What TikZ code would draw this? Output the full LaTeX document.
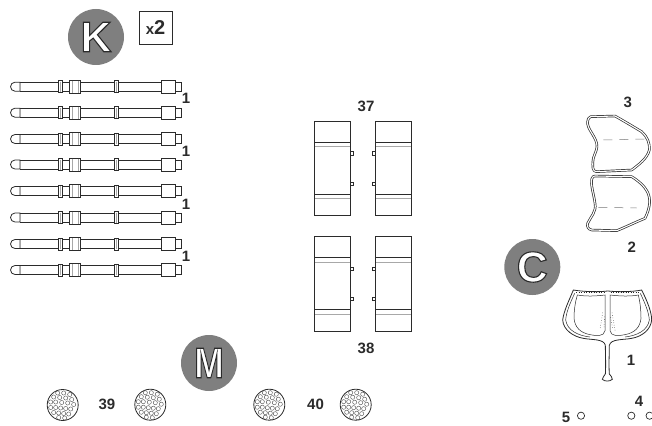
\documentclass[tikz,border=0pt]{standalone}
\usepackage{fontspec}
\usepackage{graphicx}
\setmainfont{Liberation Sans}
\definecolor{ink}{HTML}{2B2B2B}
\definecolor{disc}{HTML}{7F7F7F}
\definecolor{soft}{HTML}{A8A8A8}
\newcommand{\outlined}[1]{\special{pdf:code q 2 Tr 1.1 w 0.17 0.17 0.17 RG}#1\special{pdf:code Q}}
\tikzset{
  part/.style={draw=ink,line width=0.8pt,fill=white},
  softline/.style={draw=soft,line width=0.9pt},
  numlabel/.style={font=\bfseries\fontsize{15}{16}\selectfont,text=ink,inner sep=0pt},
  badge/.style={circle,fill=disc,minimum size=56pt,inner sep=0pt,text=white,font=\bfseries\fontsize{43}{45}\selectfont},
  twin/.style={draw=ink,line width=0.7pt,double=white,double distance=1.1pt,line join=round},
  dashline/.style={draw=soft!70!black,line width=0.5pt},
  thin line/.style={draw=ink,line width=0.5pt}
}
\newcommand{\barpart}[1]{%
  \begin{scope}[yshift=-#1pt]
    \draw[part] (20,-4.5) -- (15,-4.5) arc[start angle=-90,end angle=-270,radius=4.5] -- (20,4.5) -- cycle;
    \draw[part] (20,-4.5) rectangle (161,4.5);
    \draw[softline] (20,-4) -- (20,4);
    \draw[part] (58,-6) rectangle (62,6);
    \draw[softline] (60,-5) -- (60,5);
    \draw[part] (114,-6) rectangle (118,6);
    \draw[softline] (116,-5) -- (116,5);
    \draw[part] (69.5,-6.5) rectangle (80,6.5);
    \draw[softline] (72,-6) -- (72,6) (78,-6) -- (78,6);
    \draw[part] (161,-6.5) rectangle (175,6.5);
    \draw[part] (175,-4.5) rectangle (181,4.5);
  \end{scope}}
\newcommand{\bandpair}[4]{%
  \draw[draw=ink,line width=0.6pt] (#1,#3) -- (#2,#3);
  \draw[softline] (#1,#4) -- (#2,#4);}
\newcommand{\rivetdisc}[2]{%
  \begin{scope}[shift={(#1,#2)}]
    \draw[draw=ink,line width=0.8pt,fill=white] (0,0) circle[radius=15.5];
    \foreach \a/\b in {-5/-12,1/-12,7/-10.5,-9/-8,-3/-7.5,3/-7,9/-5.5,-12/-3,-7/-3,-1/-2.5,5/-2,11/-0.5,
      -12/2.5,-7/2.5,-2/3,3/3.5,8/4,-9/7.5,-4/8,1/8.5,6/9,-4/12.5,2/13}
      \draw[draw=ink!85,line width=0.4pt] (\a,\b) circle[radius=2.1];
  \end{scope}}
\begin{document}
\begin{tikzpicture}[x=1pt,y=-1pt]
\useasboundingbox (0,0) rectangle (652,425);
% badges
\node[badge] (badgeK) at (96,37) {\outlined{K}};
\node[badge] (badgeC) at (532.3,267) {\outlined{C}};
\node[badge] (badgeM) at (209,363) {\scalebox{.82}[1]{\outlined{M}}};
% x2
\node[draw=ink,line width=0.8pt,minimum size=33pt,inner sep=0pt,text=ink] (mult) at (155.5,27.5)
  {\bfseries\fontsize{15}{16}\selectfont x\fontsize{20}{20}\selectfont 2};
% bars
\barpart{86.7}\barpart{112.7}\barpart{139}\barpart{164.5}
\barpart{191}\barpart{217.5}\barpart{244}\barpart{270}
\node[numlabel] (b1) at (186,98.5) {1};
\node[numlabel] (b2) at (186,151.5) {1};
\node[numlabel] (b3) at (186,204) {1};
\node[numlabel] (b4) at (186,256) {1};
% plates 37
\draw[part] (314.7,121.7) rectangle (350.3,215.7);
\draw[part] (375.7,121.7) rectangle (411.7,215.7);
\bandpair{315}{350}{142.3}{146.7}\bandpair{315}{350}{194.3}{198.3}
\bandpair{376}{411}{142.3}{146.7}\bandpair{376}{411}{194.3}{198.3}
% plates 38
\draw[part] (314.7,236.7) rectangle (350.3,331);
\draw[part] (375.7,236.7) rectangle (411.7,331);
\bandpair{315}{350}{257.3}{262}\bandpair{315}{350}{309.3}{314.3}
\bandpair{376}{411}{257.3}{262}\bandpair{376}{411}{309.3}{314.3}
% tabs
\foreach \y in {153.3,183.7,269,299}{
  \draw[draw=ink,line width=0.8pt] (350.3,\y-1.8) -- (353.8,\y-1.8) -- (353.8,\y+1.8) -- (350.3,\y+1.8);
  \draw[draw=ink,line width=0.8pt] (375.7,\y-1.8) -- (372.2,\y-1.8) -- (372.2,\y+1.8) -- (375.7,\y+1.8);
}
\node[numlabel] (n37) at (366,106) {37};
\node[numlabel] (n38) at (366,348) {38};
% seat shell 3 and 2
\begin{scope}[shift={(570,90)},scale=1/3]
  \draw[twin] (62,80) -- (135,78) .. controls (160,92) and (190,110) .. (215,125)
     .. controls (232,140) and (240,160) .. (238,180)
     .. controls (232,205) and (205,225) .. (185,240)
     -- (80,245) .. controls (68,245) and (66,232) .. (70,205)
     .. controls (76,185) and (84,175) .. (80,160)
     .. controls (74,135) and (50,115) .. (53,95)
     .. controls (54,85) and (58,82) .. (62,80) -- cycle;
  \draw[dashline,dash pattern=on 9pt off 7pt] (100,150) -- (225,147);
  \draw[twin] (75,258) -- (185,260) .. controls (205,272) and (225,290) .. (232,305)
     .. controls (242,325) and (242,350) .. (225,385)
     .. controls (200,395) and (165,412) .. (140,422)
     -- (65,420) .. controls (55,418) and (50,410) .. (53,400)
     .. controls (62,380) and (80,365) .. (75,340)
     .. controls (72,315) and (60,280) .. (66,265)
     .. controls (68,260) and (71,258) .. (75,258) -- cycle;
  \draw[dashline,dash pattern=on 9pt off 7pt] (85,352) -- (200,354);
\end{scope}
\node[numlabel] (n3) at (627.7,102.7) {3};
\node[numlabel] (n2) at (631.7,247.3) {2};
% seat frame 1
\begin{scope}[shift={(490,240)},scale=1/3]
  \draw[draw=ink,line width=0.8pt,fill=white] (250,150) .. controls (285,156) and (330,156) .. (353,153)
     .. controls (385,156) and (425,156) .. (455,150)
     .. controls (470,180) and (485,215) .. (485,240)
     .. controls (482,270) and (455,290) .. (425,295)
     .. controls (400,300) and (362,296) .. (358,316)
     .. controls (358,340) and (356,375) .. (358,402)
     .. controls (360,408) and (370,412) .. (367,418)
     .. controls (358,425) and (345,425) .. (337,418)
     .. controls (336,412) and (344,408) .. (346,402)
     .. controls (348,375) and (346,340) .. (346,316)
     .. controls (342,296) and (305,300) .. (280,295)
     .. controls (250,290) and (220,270) .. (218,240)
     .. controls (222,210) and (238,180) .. (250,150) -- cycle;
  \draw[thin line] (262,165) .. controls (290,170) and (320,168) .. (345,165)
     -- (345,272) .. controls (342,290) and (320,288) .. (300,284)
     .. controls (270,278) and (255,262) .. (252,235) .. controls (252,210) and (256,185) .. (262,165) -- cycle;
  \draw[thin line] (445,165) .. controls (420,170) and (385,168) .. (360,165)
     -- (360,272) .. controls (363,290) and (385,288) .. (405,284)
     .. controls (435,278) and (450,262) .. (453,235) .. controls (453,210) and (450,185) .. (445,165) -- cycle;
  \draw[thin line] (254,160) .. controls (240,190) and (229,215) .. (227,240)
     .. controls (232,272) and (265,287) .. (300,291)
     (451,160) .. controls (465,190) and (476,215) .. (478,240)
     .. controls (473,272) and (440,287) .. (405,291);
  \draw[thin line,dotted] (338,218) -- (330,268) (366,218) -- (376,276) (344,230) -- (342,262) (362,232) -- (368,266);
  \draw[thin line,dotted] (258,158) -- (345,158) (362,158) -- (448,158);
\end{scope}
\node[numlabel] (n1) at (631,360.7) {1};
% small washers
\draw[draw=ink,line width=0.7pt] (581,415.7) circle[radius=3.6];
\draw[draw=ink,line width=0.7pt] (631.3,415.7) circle[radius=3.6];
\draw[draw=ink,line width=0.7pt] (649.6,415.7) circle[radius=3.6];
\node[numlabel] (n5) at (566,417.7) {5};
\node[numlabel] (n4) at (639,401.7) {4};
% rivet discs
\rivetdisc{62.7}{405}\rivetdisc{150.3}{404.7}\rivetdisc{269.3}{404.7}\rivetdisc{355.7}{404.7}
\node[numlabel] (n39) at (107,404.7) {39};
\node[numlabel] (n40) at (315.5,404.7) {40};
\end{tikzpicture}
\end{document}
